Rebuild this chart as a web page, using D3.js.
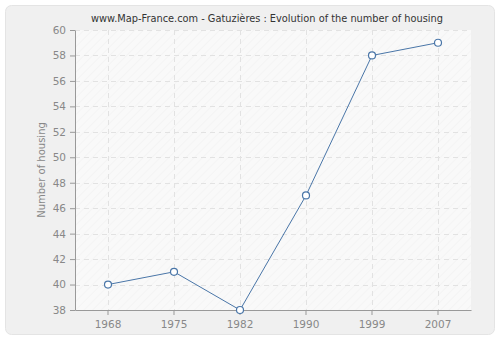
<!DOCTYPE html>
<html>
<head>
<meta charset="utf-8">
<script src="https://cdn.jsdelivr.net/npm/d3@7"></script>
<style>
  body { margin: 0; background: #fff; }
  text { font-family: "DejaVu Sans", Verdana, sans-serif; }
</style>
</head>
<body>
<div id="chart"></div>
<script>
// data
var years = ["1968", "1975", "1982", "1990", "1999", "2007"];
var housing = [40, 41, 38, 47, 58, 59];
var yTicks = [38, 40, 42, 44, 46, 48, 50, 52, 54, 56, 58, 60];

var W = 500, H = 340;
var margin = {top: 30, right: 29, bottom: 30, left: 75};
var width = W - margin.left - margin.right,
    height = H - margin.top - margin.bottom;

var svg = d3.select("#chart").append("svg")
  .attr("width", W).attr("height", H);

// hatch pattern for plot background
var defs = svg.append("defs");
var pat = defs.append("pattern")
  .attr("id", "hatch")
  .attr("patternUnits", "userSpaceOnUse")
  .attr("width", 6).attr("height", 6)
  .attr("patternTransform", "rotate(45)");
pat.append("rect").attr("width", 6).attr("height", 6).attr("fill", "#f9f9f9");
pat.append("line").attr("x1", 0).attr("y1", 0).attr("x2", 0).attr("y2", 6)
  .attr("stroke", "#efefef").attr("stroke-width", 1);

// outer panel
svg.append("rect")
  .attr("x", 5.5).attr("y", 5.5)
  .attr("width", W - 11).attr("height", H - 11)
  .attr("rx", 6)
  .attr("fill", "#f0f0f0")
  .attr("stroke", "#e4e4e4");

// title
svg.append("text")
  .attr("x", 267).attr("y", 22)
  .attr("text-anchor", "middle")
  .attr("font-size", 9.8)
  .attr("fill", "#333")
  .text("www.Map-France.com - Gatuzières : Evolution of the number of housing");

var g = svg.append("g")
  .attr("transform", "translate(" + margin.left + "," + margin.top + ")");

var x = d3.scaleBand().domain(years).range([0, width]);
var y = d3.scaleLinear().domain([38, 60]).range([height, 0]);

g.append("rect")
  .attr("width", width).attr("height", height)
  .attr("fill", "url(#hatch)");

// grid
g.selectAll(".hgrid").data(yTicks.slice(1)).enter().append("line")
  .attr("x1", 0).attr("x2", width)
  .attr("y1", function(d) { return Math.round(y(d)) + 0.5; })
  .attr("y2", function(d) { return Math.round(y(d)) + 0.5; })
  .attr("stroke", "#e2e2e2").attr("stroke-dasharray", "5,4");
g.selectAll(".vgrid").data(years).enter().append("line")
  .attr("x1", function(d) { return Math.round(x(d) + x.bandwidth() / 2) + 0.5; })
  .attr("x2", function(d) { return Math.round(x(d) + x.bandwidth() / 2) + 0.5; })
  .attr("y1", 0).attr("y2", height)
  .attr("stroke", "#e2e2e2").attr("stroke-dasharray", "5,4");

// axes
var xAxis = g.append("g")
  .attr("transform", "translate(0," + height + ")")
  .call(d3.axisBottom(x).tickSize(5).tickPadding(6).tickSizeOuter(0));
var yAxis = g.append("g")
  .call(d3.axisLeft(y).tickValues(yTicks).tickSize(5).tickPadding(4).tickSizeOuter(0));
[xAxis, yAxis].forEach(function(a) {
  a.select(".domain").attr("stroke", "#999");
  a.selectAll(".tick line").attr("stroke", "#999");
  a.selectAll(".tick text").attr("fill", "#888").attr("font-size", 10.5)
    .attr("font-family", "DejaVu Sans, Verdana, sans-serif");
});

// y label
svg.append("text")
  .attr("transform", "translate(45," + (margin.top + height / 2) + ") rotate(-90)")
  .attr("text-anchor", "middle")
  .attr("font-size", 10)
  .attr("fill", "#888")
  .text("Number of housing");

// line
var pts = years.map(function(d, i) { return {year: d, value: housing[i]}; });
var line = d3.line()
  .x(function(d) { return x(d.year) + x.bandwidth() / 2; })
  .y(function(d) { return y(d.value); });

g.append("path").datum(pts)
  .attr("d", line)
  .attr("fill", "none")
  .attr("stroke", "#4a76a8")
  .attr("stroke-width", 1);

g.selectAll(".pt").data(pts).enter().append("circle")
  .attr("cx", function(d) { return x(d.year) + x.bandwidth() / 2; })
  .attr("cy", function(d) { return y(d.value); })
  .attr("r", 3.5)
  .attr("fill", "#fff")
  .attr("stroke", "#4a76a8")
  .attr("stroke-width", 1.2);
</script>
</body>
</html>
